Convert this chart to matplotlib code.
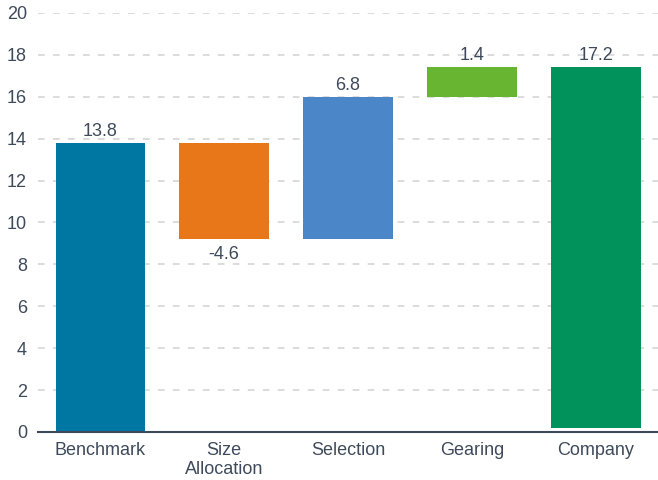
import numpy as np
import matplotlib
matplotlib.use("Agg")
import matplotlib.pyplot as plt

# ---- data ----
categories = ["Benchmark", "Size\nAllocation", "Selection", "Gearing", "Company"]
bar_bottoms = [0.0, 9.2, 9.2, 16.0, 0.2]
bar_tops = [13.8, 13.8, 16.0, 17.4, 17.4]
labels = ["13.8", "-4.6", "6.8", "1.4", "17.2"]
colors = ["#0076a3", "#e8771a", "#4a86c8", "#67b531", "#00925a"]

plt.rcParams['font.family'] = ['Liberation Sans', 'DejaVu Sans']
txt_col = "#3e4a5b"
fs = 13

fig = plt.figure(figsize=(6.58, 4.8), dpi=100)
ax = fig.add_axes([0.058, 0.1, 0.942, 0.873])

x = np.arange(len(categories))
heights = np.array(bar_tops) - np.array(bar_bottoms)
ax.bar(x, heights, bottom=bar_bottoms, width=0.72, color=colors, zorder=3)

# value labels: above for gains, below for the loss
for i, lab in enumerate(labels):
    if lab.startswith("-"):
        ax.text(x[i], bar_bottoms[i] - 0.3, lab, ha='center', va='top',
                fontsize=fs, color=txt_col, zorder=4)
    else:
        ax.text(x[i], bar_tops[i] + 0.15, lab, ha='center', va='bottom',
                fontsize=fs, color=txt_col, zorder=4)

ax.set_xlim(-0.5, 4.5)
ax.set_ylim(0, 20)
ax.set_yticks(np.arange(0, 21, 2))
ax.set_xticks(x)
ax.set_xticklabels(categories, fontsize=fs, color=txt_col, linespacing=1.15)
ax.tick_params(axis='y', labelsize=fs, labelcolor=txt_col, length=0, pad=8)
ax.tick_params(axis='x', length=0, pad=7)

ax.yaxis.grid(True, color="#d9d9d9", linestyle=(0, (3.7, 4.6)), linewidth=1.3, zorder=0)
for s in ['top', 'right', 'left']:
    ax.spines[s].set_visible(False)
ax.spines['bottom'].set_color("#3e4a5b")
ax.spines['bottom'].set_linewidth(1.5)
ax.spines['bottom'].set_zorder(5)

plt.savefig("out.png", dpi=100)
